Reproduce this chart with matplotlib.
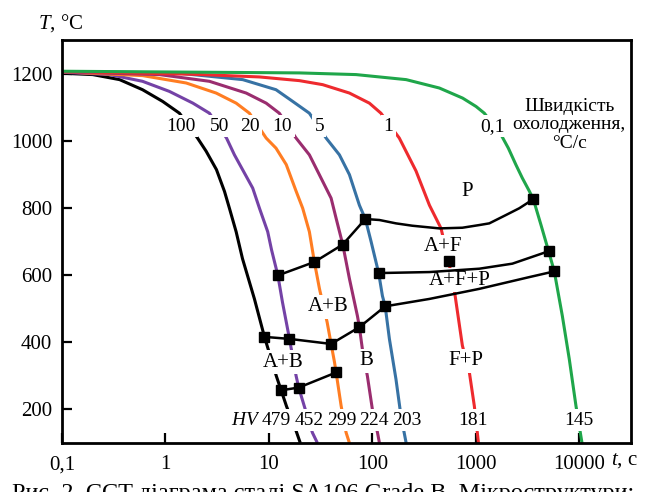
"""CCT diagram of SA106 Grade B steel: cooling curves, phase boundaries, HV."""

import matplotlib

matplotlib.use("Agg")
import matplotlib.pyplot as plt
from matplotlib.ticker import FixedLocator, NullLocator

plt.rcParams["font.family"] = ["Liberation Serif", "DejaVu Serif"]
plt.rcParams["mathtext.fontset"] = "custom"
plt.rcParams["mathtext.rm"] = "Liberation Serif"
plt.rcParams["mathtext.it"] = "Liberation Serif:italic"

# cooling curves: rate label, colour, t [s], T [°C]
RATE_LABELS = ["100", "50", "20", "10", "5", "1", "0,1"]
COLORS = ["#000000", "#7442a6", "#ff7d22", "#9a2d6f", "#3772a4", "#ee2a2e", "#1fa64a"]

t_100 = [0.1, 0.198, 0.36, 0.60, 0.94, 1.365, 2.04, 2.47, 3.11, 3.72, 4.15, 4.82, 5.55,
         7.24, 9.05, 11.8, 14.8, 18.4, 20.1]
T_100 = [1201, 1197, 1182, 1152, 1117, 1082, 1008, 969, 914, 849, 799, 729, 649,
         529, 416, 299, 209, 134, 100]

t_50 = [0.1, 0.288, 0.60, 1.09, 1.84, 2.66, 3.89, 4.64, 6.97, 8.10, 9.73, 10.6,
        12.2, 13.5, 15.8, 18.3, 19.4, 22.0, 26.3, 29.4]
T_50 = [1204, 1197, 1177, 1147, 1112, 1082, 1008, 958, 859, 799, 729, 675,
        599, 520, 410, 300, 265, 209, 131, 100]

t_20 = [0.1, 0.60, 1.585, 3.09, 4.82, 6.48, 9.40, 11.7, 14.7, 18.3, 21.2, 24.6, 27.5,
        30.8, 36.5, 39.9, 43.0, 44.6, 49.9, 55.7, 60.0]
T_20 = [1205, 1194, 1172, 1142, 1112, 1082, 1008, 978, 929, 850, 799, 729, 639,
        559, 460, 395, 341, 310, 210, 131, 100]

t_10 = [0.1, 0.875, 2.66, 6.03, 9.40, 12.6, 18.3, 24.6, 30.7, 39.9, 44.6, 51.7, 60.0,
        71.7, 74.9, 80.0, 89.5, 100, 112, 117]
T_10 = [1205, 1197, 1177, 1142, 1112, 1082, 1008, 958, 899, 829, 769, 691, 589,
        478, 445, 380, 299, 200, 131, 100]

t_5 = [0.1, 1.27, 5.58, 11.7, 17.0, 24.6, 35.7, 48.0, 60.0, 74.9, 85.5, 97.1, 115, 125,
       133, 146, 169, 189, 212]
T_5 = [1206, 1202, 1182, 1152, 1117, 1082, 1008, 958, 899, 808, 767, 700, 606, 538,
       507, 410, 290, 180, 100]

t_1 = [0.1, 1.84, 8.1, 19.7, 33.1, 60, 93.5, 121, 182, 264, 356, 461, 546, 620, 741,
       865, 967, 1060]
T_1 = [1206, 1198, 1190, 1179, 1167, 1142, 1112, 1082, 1008, 910, 808, 739, 641, 554,
       390, 311, 210, 100]

t_01 = [0.1, 19.7, 69.6, 212, 444, 745, 1005, 1208, 1751, 2061, 2444, 2813, 3288, 3594,
        4266, 5050, 5731, 6850, 8000, 9290, 10620]
T_01 = [1207, 1202, 1197, 1182, 1157, 1127, 1102, 1082, 1018, 978, 928, 889, 850, 826,
        749, 671, 611, 479, 350, 210, 100]

CURVES_T = [t_100, t_50, t_20, t_10, t_5, t_1, t_01]
CURVES_TEMP = [T_100, T_50, T_20, T_10, T_5, T_1, T_01]
LABEL_T = [1.42, 3.32, 6.49, 13.5, 30.7, 143, 1443]
LABEL_Y = 1043

# phase boundaries (black) and which points carry a square marker
p_start_t = [12.2, 27.5, 51.7, 85.5, 117, 169, 243, 444, 741, 1081, 1349, 1959, 2630, 3594]
p_start_T = [599, 639, 691, 767, 764, 754, 747, 739, 741, 749, 754, 779, 799, 826]
p_start_marks = [0, 1, 2, 3, 13]

af_t = [115, 356, 1081, 2254, 5050]
af_T = [606, 609, 619, 634, 671]
af_marks = [0, 4]

mid_t = [9.05, 15.8, 39.9, 74.9, 133, 356, 1081, 3288, 5731]
mid_T = [416, 410, 395, 445, 507, 529, 559, 594, 611]
mid_marks = [0, 1, 2, 3, 4, 8]

low_t = [13.1, 19.4, 44.6]
low_T = [257, 265, 310]
low_marks = [0, 1, 2]

extra_t = [546]
extra_T = [641]

# hardness row
HV_VALUES = ["479", "452", "299", "224", "203", "181", "145"]
HV_T = [11.7, 24.6, 50.5, 104.5, 216, 933, 10000]
HV_Y = 168

PHASES = [("P", 828, 850), ("A+F", 477, 685), ("A+F+P", 693, 584), ("F+P", 804, 345),
          ("B", 86.9, 345), ("A+B", 37, 505), ("A+B", 13.6, 340)]

XTICKS = [0.1, 1, 10, 100, 1000, 10000]
XTICK_LABELS = ["0,1", "1", "10", "100", "1000", "10000"]
YTICKS = [200, 400, 600, 800, 1000, 1200]

fig = plt.figure(figsize=(6.55, 4.92), dpi=100)
ax = fig.add_axes([0.0947, 0.0996, 0.8687, 0.8191])
ax.set_xscale("log")
ax.set_xlim(0.1, 31623)
ax.set_ylim(100, 1300)

for t, T, c in zip(CURVES_T, CURVES_TEMP, COLORS):
    ax.plot(t, T, color=c, lw=2.2, zorder=2, solid_capstyle="butt", solid_joinstyle="round")

box = dict(boxstyle="square,pad=0.12", fc="white", ec="none")
for lab, t in zip(RATE_LABELS, LABEL_T):
    ax.text(t, LABEL_Y, lab, fontsize=14, ha="center", va="center", bbox=box, zorder=3)

ax.text(8000, 1047, "Швидкість\nохолодження,\n°C/с", fontsize=14, ha="center",
        va="center", linespacing=1.1, zorder=3)

for lab, t, T in PHASES:
    ax.text(t, T, lab, fontsize=15, ha="center", va="center", bbox=box, zorder=3)

ax.text(6.0, HV_Y, "$HV$", fontsize=14, ha="center", va="center", bbox=box, zorder=3)
for lab, t in zip(HV_VALUES, HV_T):
    ax.text(t, HV_Y, lab, fontsize=14, ha="center", va="center", bbox=box, zorder=3)

line_kw = dict(color="black", lw=1.8, marker="s", ms=7, zorder=4)
ax.plot(p_start_t, p_start_T, markevery=p_start_marks, **line_kw)
ax.plot(af_t, af_T, markevery=af_marks, **line_kw)
ax.plot(mid_t, mid_T, markevery=mid_marks, **line_kw)
ax.plot(low_t, low_T, markevery=low_marks, **line_kw)
ax.plot(extra_t, extra_T, ls="none", marker="s", ms=7, color="black", zorder=4)

ax.xaxis.set_major_locator(FixedLocator(XTICKS))
ax.xaxis.set_minor_locator(NullLocator())
ax.set_xticklabels(XTICK_LABELS)
ax.set_yticks(YTICKS)
ax.tick_params(direction="in", length=7, width=1.6, labelsize=15, pad=7)
ax.tick_params(axis="x", pad=9)
for s in ax.spines.values():
    s.set_linewidth(2.0)

fig.text(38 / 655, 1 - 23 / 492, "$T$, °C", fontsize=15, ha="left", va="center")
fig.text(611 / 655, 1 - 460 / 492, "$t$, с", fontsize=15, ha="left", va="center")
# figure caption, cut off by the bottom edge as in the source scan
fig.text(12 / 655, 1 - 483 / 492,
         "Рис. 2. CCT-діаграма сталі SA106 Grade B. Мікроструктури:",
         fontsize=17.5, ha="left", va="top")

fig.savefig("out.png", dpi=100)
plt.close(fig)
